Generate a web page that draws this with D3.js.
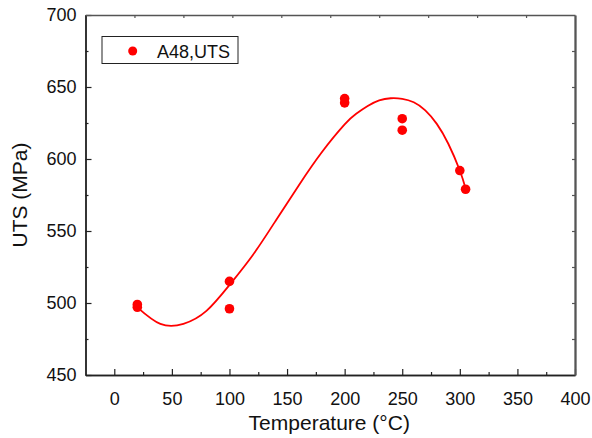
<!DOCTYPE html>
<html>
<head>
<meta charset="utf-8">
<script src="https://cdn.jsdelivr.net/npm/d3@7"></script>
<style>
  html, body { margin: 0; padding: 0; background: #fff; }
  svg { display: block; font-family: "Liberation Sans", Arial, sans-serif; }
</style>
</head>
<body>
<svg id="chart" width="592" height="438"></svg>
<script>
// Measured UTS values (temperature in °C, UTS in MPa)
const tempC = [20, 20, 100, 100, 200, 200, 250, 250, 300, 305];
const utsMPa = [499, 497, 515, 496, 642, 639, 628, 620, 592, 579];

// Fitted trend curve sampled along temperature
const fitTemp = [20, 40, 60, 80, 100, 120, 140, 160, 180, 200, 210, 220, 230, 240, 250, 260, 270, 280, 290, 300, 305];
const fitUTS  = [497, 485.5, 485.5, 494.5, 512.5, 533, 557, 581.5, 604.5, 624, 631.4, 636.8, 640.7, 642.2, 641.8, 639.4, 633.8, 624.4, 610.6, 592, 579.5];

const xTicks = [0, 50, 100, 150, 200, 250, 300, 350, 400];
const yTicks = [450, 500, 550, 600, 650, 700];
const seriesName = "A48,UTS";

const svg = d3.select("#chart");
const plotL = 85.5, plotR = 575, plotT = 15, plotB = 375;

const x = d3.scaleLinear().domain([-25, 400]).range([plotL, plotR]);
const y = d3.scaleLinear().domain([450, 700]).range([plotB, plotT]);

const axisColor = "#222";
const fontSize = 18;

// minor ticks every 25 units
const xMinor = d3.range(-25, 401, 25).filter(v => v % 50 !== 0 && v > -25);
const yMinor = d3.range(475, 700, 50);

// bottom axis
svg.append("g").attr("transform", `translate(0,${plotB})`)
  .call(d3.axisBottom(x).tickValues(xTicks).tickSizeInner(-6).tickSizeOuter(0).tickPadding(17));
svg.append("g").attr("transform", `translate(0,${plotB})`)
  .call(d3.axisBottom(x).tickValues(xMinor).tickSizeInner(-3).tickSizeOuter(0).tickFormat(""));

// left axis
svg.append("g").attr("transform", `translate(${plotL},0)`)
  .call(d3.axisLeft(y).tickValues(yTicks).tickSizeInner(-6).tickSizeOuter(0).tickPadding(9));
svg.append("g").attr("transform", `translate(${plotL},0)`)
  .call(d3.axisLeft(y).tickValues(yMinor).tickSizeInner(-3).tickSizeOuter(0).tickFormat(""));

// top and right frame axes with evenly spaced small ticks
const xs = d3.scaleLinear().domain([0, 10]).range([plotL, plotR]);
const ys = d3.scaleLinear().domain([0, 10]).range([plotB, plotT]);
const gTop = svg.append("g").attr("class", "frame").attr("transform", `translate(0,${plotT})`)
  .call(d3.axisTop(xs).tickValues(d3.range(1, 10)).tickSizeInner(-3).tickSizeOuter(0).tickFormat(""));
const gRight = svg.append("g").attr("class", "frame").attr("transform", `translate(${plotR},0)`)
  .call(d3.axisRight(ys).tickValues(d3.range(1, 10)).tickSizeInner(-3).tickSizeOuter(0).tickFormat(""));

svg.selectAll(".domain").attr("stroke", axisColor).attr("stroke-width", 1.4);
svg.selectAll(".tick line").attr("stroke", axisColor).attr("stroke-width", 1.2);
gTop.select(".domain").attr("stroke", "#555").attr("stroke-width", 1.6);
gRight.select(".domain").attr("stroke", "#555").attr("stroke-width", 2.3);
svg.selectAll(".frame .tick line").attr("stroke", "#555");

svg.selectAll(".tick text")
  .attr("font-family", "'Liberation Sans', Arial, sans-serif")
  .attr("font-size", fontSize)
  .attr("fill", "#111");

// axis titles
svg.append("text")
  .attr("x", (plotL + plotR) / 2 - 1)
  .attr("y", 430)
  .attr("text-anchor", "middle")
  .attr("font-size", 21)
  .attr("fill", "#111")
  .text("Temperature (°C)");

svg.append("text")
  .attr("transform", `translate(27,${(plotT + plotB) / 2}) rotate(-90)`)
  .attr("text-anchor", "middle")
  .attr("font-size", 21)
  .attr("fill", "#111")
  .text("UTS (MPa)");

// fitted curve
const fitData = fitTemp.map((t, i) => [t, fitUTS[i]]);
svg.append("path")
  .datum(fitData)
  .attr("fill", "none")
  .attr("stroke", "#ff0000")
  .attr("stroke-width", 1.8)
  .attr("d", d3.line().x(d => x(d[0])).y(d => y(d[1])).curve(d3.curveNatural));

// measured points
svg.append("g").selectAll("circle")
  .data(tempC.map((t, i) => [t, utsMPa[i]]))
  .join("circle")
  .attr("cx", d => x(d[0]))
  .attr("cy", d => y(d[1]))
  .attr("r", 4.8)
  .attr("fill", "#ff0000");

// legend
const lg = svg.append("g");
lg.append("rect")
  .attr("x", 102).attr("y", 36.5).attr("width", 136).attr("height", 27)
  .attr("fill", "#fff").attr("stroke", "#222").attr("stroke-width", 1);
lg.append("circle").attr("cx", 132.7).attr("cy", 51).attr("r", 4.5).attr("fill", "#ff0000");
lg.append("text")
  .attr("x", 157).attr("y", 57.5)
  .attr("font-size", fontSize).attr("fill", "#111")
  .text(seriesName);
</script>
</body>
</html>
